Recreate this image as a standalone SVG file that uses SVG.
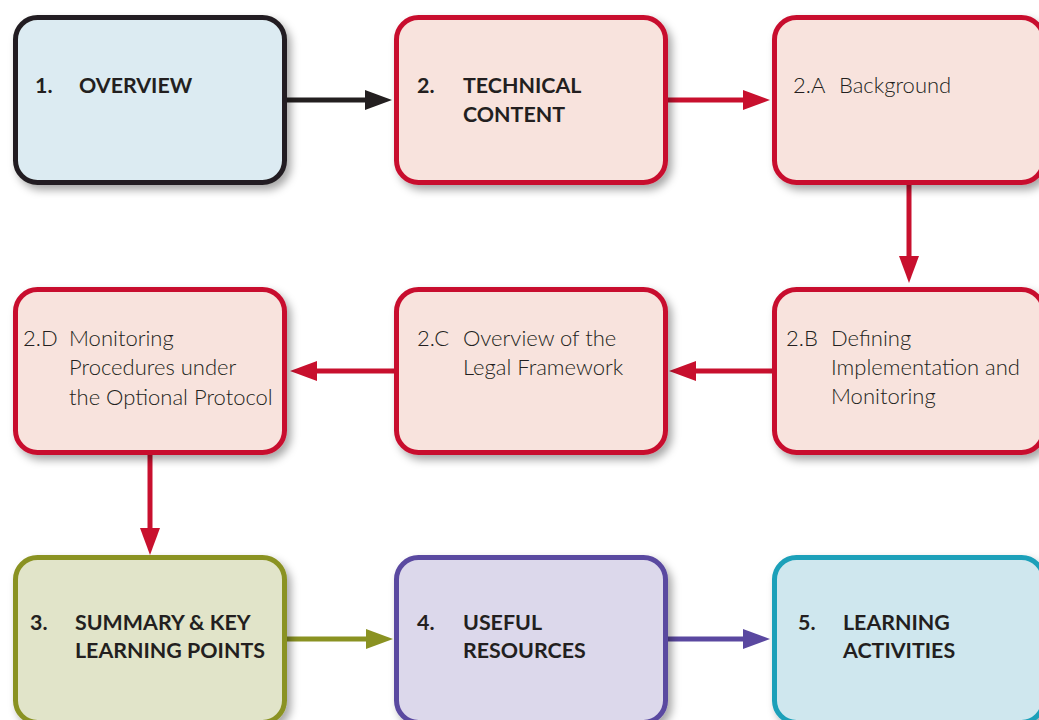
<svg xmlns="http://www.w3.org/2000/svg" width="1039" height="720" viewBox="0 0 1039 720">
<defs>
<filter id="sh" x="-10%" y="-10%" width="125%" height="130%">
<feDropShadow dx="4" dy="5" stdDeviation="4" flood-color="#000" flood-opacity="0.35"/>
</filter>
<marker id="mk" markerUnits="userSpaceOnUse" markerWidth="28" markerHeight="22" refX="15" refY="10" orient="auto"><path d="M0,0 L27,10 L0,20 Z" fill="#231f20"/></marker>
<marker id="mr" markerUnits="userSpaceOnUse" markerWidth="28" markerHeight="22" refX="15" refY="10" orient="auto"><path d="M0,0 L27,10 L0,20 Z" fill="#c8102e"/></marker>
<marker id="mo" markerUnits="userSpaceOnUse" markerWidth="28" markerHeight="22" refX="15" refY="10" orient="auto"><path d="M0,0 L27,10 L0,20 Z" fill="#8a9222"/></marker>
<marker id="mp" markerUnits="userSpaceOnUse" markerWidth="28" markerHeight="22" refX="15" refY="10" orient="auto"><path d="M0,0 L27,10 L0,20 Z" fill="#5a48a0"/></marker>
</defs>
<style>
.box{stroke-width:5;filter:url(#sh)}
.k{fill:#dcebf2;stroke:#231f20}
.r{fill:#f8e3dd;stroke:#c8102e}
.o{fill:#e1e4c9;stroke:#8a9222}
.p{fill:#dcd8eb;stroke:#5a48a0}
.c{fill:#cfe7ee;stroke:#1aa0b9}
.b{font-family:Lato,"Open Sans",sans-serif;font-weight:700;font-size:21.4px;fill:#231f20}
.l{font-family:Lato,"Open Sans",sans-serif;font-weight:300;font-size:22px;fill:#231f20}
.cn{fill:none;stroke-width:5}
</style>
<g id="connectors">
<line class="cn" x1="287" y1="100" x2="380" y2="100" stroke="#231f20" marker-end="url(#mk)"/>
<line class="cn" x1="668" y1="100" x2="758" y2="100" stroke="#c8102e" marker-end="url(#mr)"/>
<line class="cn" x1="909" y1="185" x2="909" y2="271" stroke="#c8102e" marker-end="url(#mr)"/>
<line class="cn" x1="772" y1="371" x2="681" y2="371" stroke="#c8102e" marker-end="url(#mr)"/>
<line class="cn" x1="394" y1="371" x2="302" y2="371" stroke="#c8102e" marker-end="url(#mr)"/>
<line class="cn" x1="150" y1="455" x2="150" y2="543" stroke="#c8102e" marker-end="url(#mr)"/>
<line class="cn" x1="287" y1="639" x2="381" y2="639" stroke="#8a9222" marker-end="url(#mo)"/>
<line class="cn" x1="668" y1="639" x2="758" y2="639" stroke="#5a48a0" marker-end="url(#mp)"/>
</g>
<g id="n1">
<rect class="box k" x="15.5" y="17.5" width="269" height="165" rx="22"/>
<text class="b" x="35" y="93">1.</text><text class="b" x="79" y="93">OVERVIEW</text>
</g>
<g id="n2">
<rect class="box r" x="396.5" y="17.5" width="269" height="165" rx="22"/>
<text class="b" x="417" y="93">2.</text><text class="b" x="463" y="93">TECHNICAL</text>
<text class="b" x="463" y="122">CONTENT</text>
</g>
<g id="n2a">
<rect class="box r" x="774.5" y="17.5" width="269" height="165" rx="22"/>
<text class="l" x="793" y="93">2.A</text><text class="l" x="839" y="93">Background</text>
</g>
<g id="n2b">
<rect class="box r" x="774.5" y="289.5" width="269" height="163" rx="22"/>
<text class="l" x="786" y="346">2.B</text>
<text class="l" x="831" y="346">Defining</text>
<text class="l" x="831" y="375">Implementation and</text>
<text class="l" x="831" y="404">Monitoring</text>
</g>
<g id="n2c">
<rect class="box r" x="396.5" y="289.5" width="269" height="163" rx="22"/>
<text class="l" x="417" y="346">2.C</text>
<text class="l" x="463" y="346">Overview of the</text>
<text class="l" x="463" y="375">Legal Framework</text>
</g>
<g id="n2d">
<rect class="box r" x="15.5" y="289.5" width="269" height="163" rx="22"/>
<text class="l" x="23" y="346">2.D</text>
<text class="l" x="69" y="346">Monitoring</text>
<text class="l" x="69" y="375">Procedures under</text>
<text class="l" x="69" y="405">the Optional Protocol</text>
</g>
<g id="n3">
<rect class="box o" x="15.5" y="557.5" width="269" height="165" rx="22"/>
<text class="b" x="30" y="630">3.</text><text class="b" x="75" y="630">SUMMARY &amp; KEY</text>
<text class="b" x="75" y="658">LEARNING POINTS</text>
</g>
<g id="n4">
<rect class="box p" x="396.5" y="557.5" width="269" height="165" rx="22"/>
<text class="b" x="417" y="630">4.</text><text class="b" x="463" y="630">USEFUL</text>
<text class="b" x="463" y="658">RESOURCES</text>
</g>
<g id="n5">
<rect class="box c" x="774.5" y="557.5" width="269" height="165" rx="22"/>
<text class="b" x="798" y="630">5.</text><text class="b" x="843" y="630">LEARNING</text>
<text class="b" x="843" y="658">ACTIVITIES</text>
</g>
</svg>
